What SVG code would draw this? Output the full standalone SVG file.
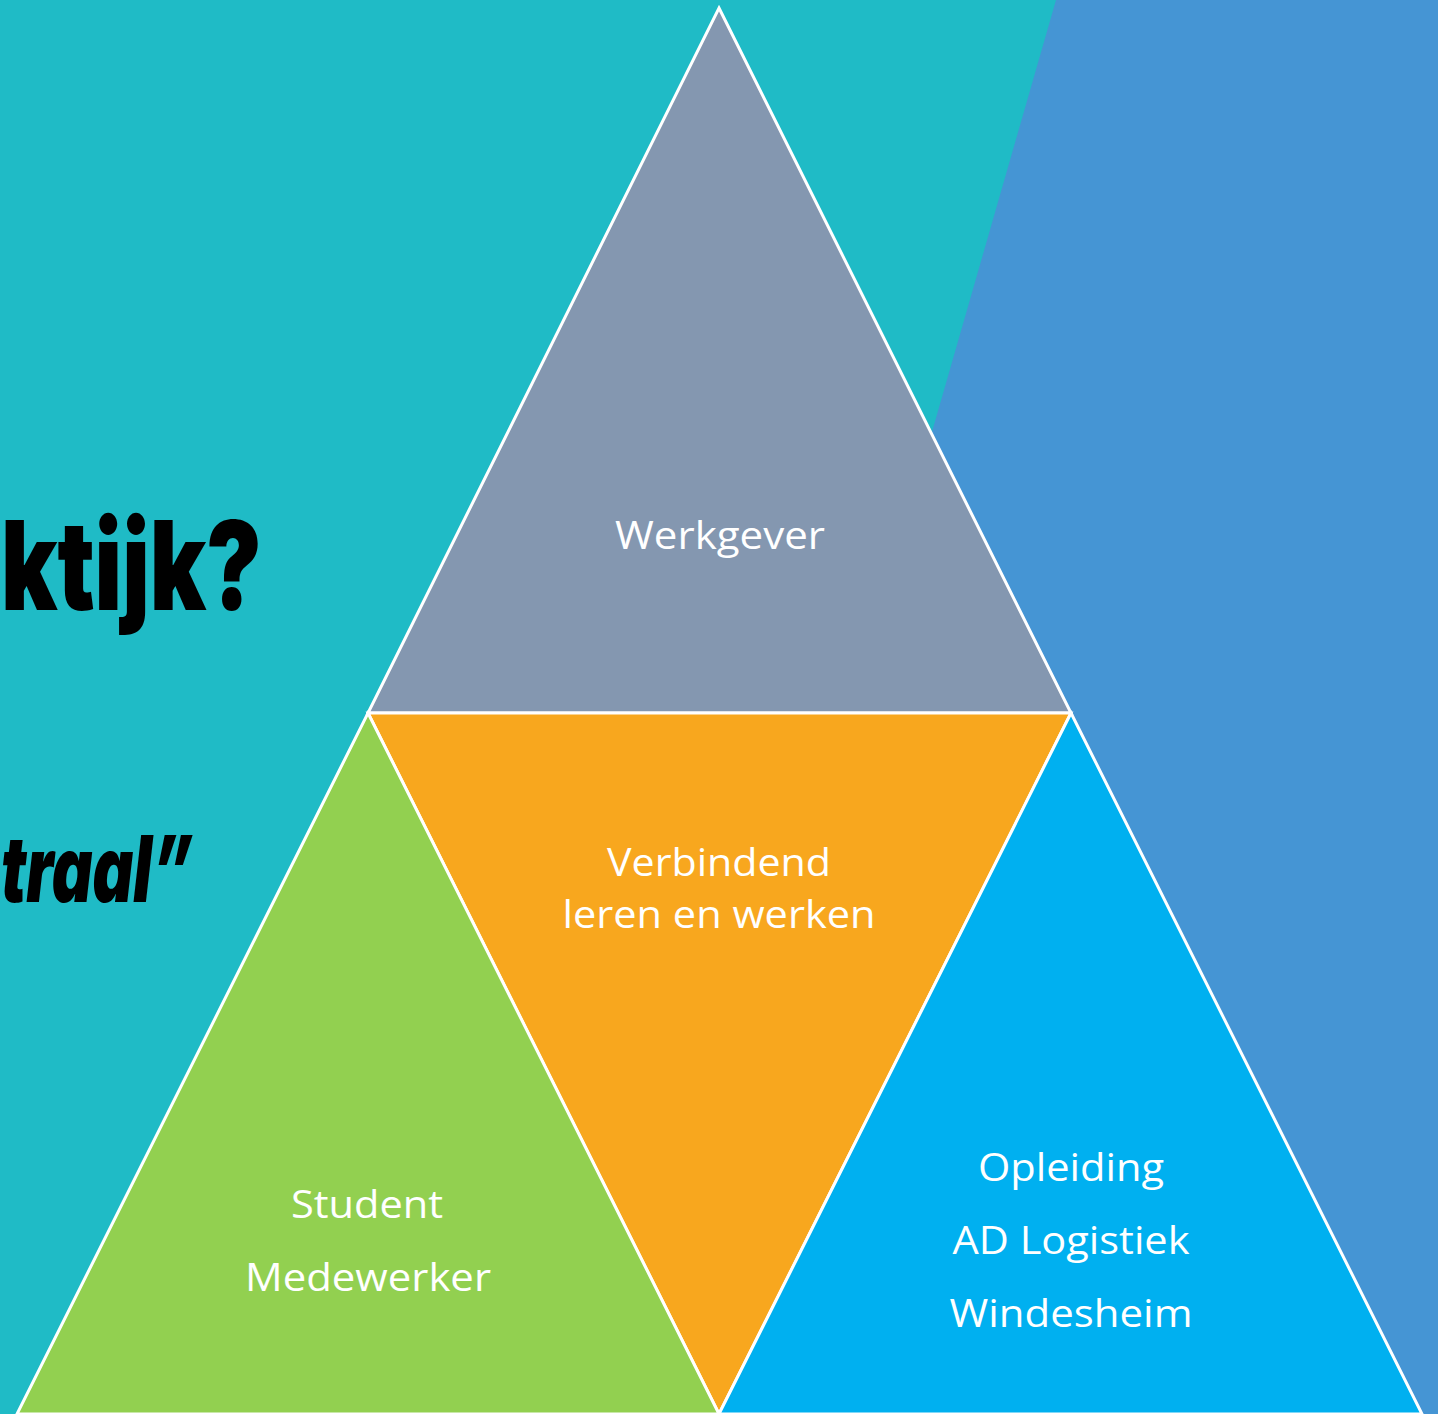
<svg xmlns="http://www.w3.org/2000/svg" width="1438" height="1414" viewBox="0 0 1438 1414">
<style>
.tri{stroke:#FFFFFF;stroke-width:3;stroke-linejoin:miter}
.lbl{font-family:"Open Sans","Liberation Sans",sans-serif;font-size:38px;fill:#FFFFFF;text-anchor:middle}
.big{font-family:Inter,Roboto,"Liberation Sans",sans-serif;font-weight:900;fill:#000000;text-anchor:start}
</style>
<rect x="0" y="0" width="1438" height="1414" fill="#1FBBC6"/>
<polygon points="1056,0 1438,0 1438,1414 650,1414" fill="#4595D4"/>
<text class="big" x="1" y="610" font-size="124" textLength="261" lengthAdjust="spacingAndGlyphs">ktijk?</text>
<text class="big" x="1" y="902" font-size="92" font-style="italic" textLength="192" lengthAdjust="spacingAndGlyphs">traal”</text>
<g id="werkgever">
<polygon class="tri" points="719,8 1071,713 368,713" fill="#8497B0"/>
<text class="lbl" x="720" y="549" textLength="210" lengthAdjust="spacingAndGlyphs">Werkgever</text>
</g>
<g id="verbindend">
<polygon class="tri" points="368,713 1071,713 719,1414" fill="#F8A71E"/>
<text class="lbl" x="719" y="876" textLength="224" lengthAdjust="spacingAndGlyphs">Verbindend</text>
<text class="lbl" x="719" y="928" textLength="313" lengthAdjust="spacingAndGlyphs">leren en werken</text>
</g>
<g id="student">
<polygon class="tri" points="368,713 719,1414 17,1414" fill="#92D050"/>
<text class="lbl" x="367" y="1218" textLength="152" lengthAdjust="spacingAndGlyphs">Student</text>
<text class="lbl" x="368" y="1291" textLength="246" lengthAdjust="spacingAndGlyphs">Medewerker</text>
</g>
<g id="opleiding">
<polygon class="tri" points="1071,713 1422,1414 719,1414" fill="#00B0F0"/>
<text class="lbl" x="1071" y="1181" textLength="186" lengthAdjust="spacingAndGlyphs">Opleiding</text>
<text class="lbl" x="1071" y="1254" textLength="237" lengthAdjust="spacingAndGlyphs">AD Logistiek</text>
<text class="lbl" x="1071" y="1327" textLength="243" lengthAdjust="spacingAndGlyphs">Windesheim</text>
</g>
<g id="connectors"></g>
</svg>
